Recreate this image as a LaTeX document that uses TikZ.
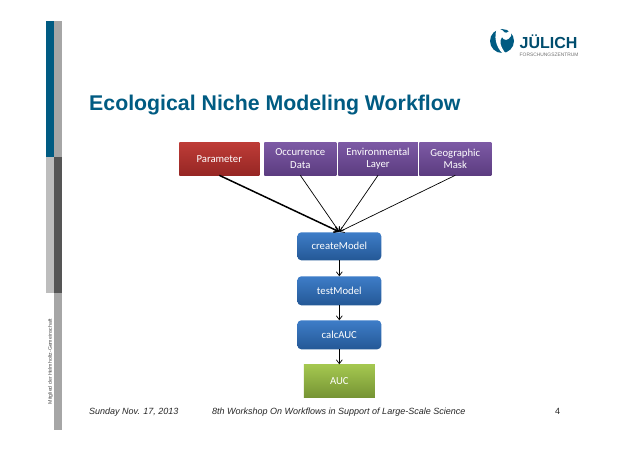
\documentclass[tikz,border=0pt]{standalone}
\usepackage{fontspec}
\setmainfont{Liberation Sans}
\newfontfamily\boxfont{Carlito}
\usetikzlibrary{arrows.meta,calc}
\definecolor{jblue}{HTML}{005B82}
\definecolor{barlight}{HTML}{A6A6A6}
\definecolor{barpale}{HTML}{BDBDBD}
\definecolor{bardark}{HTML}{555555}
\definecolor{redtop}{RGB}{190,60,55}
\definecolor{redbot}{RGB}{150,38,36}
\definecolor{purtop}{RGB}{125,90,165}
\definecolor{purbot}{RGB}{92,60,128}
\definecolor{blutop}{RGB}{62,125,200}
\definecolor{blubot}{RGB}{36,88,150}
\definecolor{gretop}{RGB}{165,200,80}
\definecolor{grebot}{RGB}{118,148,52}
\tikzset{
  x=1pt,y=-1pt,
  boxbase/.style={anchor=north west,inner sep=0pt,outer sep=0pt,text=white,align=center,font=\boxfont\fontsize{10.7}{12.5}\selectfont},
  redbox/.style={boxbase,top color=redtop,bottom color=redbot},
  purplebox/.style={boxbase,top color=purtop,bottom color=purbot},
  bluebox/.style={boxbase,rounded corners=4pt,top color=blutop,bottom color=blubot},
  greenbox/.style={boxbase,top color=gretop,bottom color=grebot},
  flow/.style={-{Straight Barb[length=4pt,width=6pt]},black,line width=0.7pt},
  flowthick/.style={flow,line width=1.5pt},
  footer/.style={anchor=base west,inner sep=0pt,font=\fontsize{9}{10}\selectfont\itshape,text=black!85}
}
\begin{document}
\begin{tikzpicture}
\useasboundingbox (0,0) rectangle (638,452);
\fill[white] (0,0) rectangle (638,452);
% side bars
\fill[jblue] (46,21) rectangle (54,157);
\fill[barlight] (54,21) rectangle (61.5,157);
\fill[barpale] (46,157) rectangle (54,293);
\fill[bardark] (54,157) rectangle (61.5,293);
\fill[barlight] (54,293) rectangle (61.5,430);
\node[rotate=90,inner sep=0pt,font=\fontsize{5.2}{6}\selectfont,text=black!70] (member) at (50.5,361.5) {Mitglied der Helmholtz-Gemeinschaft};
% logo
\fill[jblue] (502,41) circle[radius=12];
\fill[white] (497,28) .. controls (494,36) and (495,46) .. (503,54) -- (506,54) .. controls (500,46) and (499,41) .. (502,37) .. controls (504,41) and (508,41) .. (511,36) -- (511,28) .. controls (508,34) and (505,34) .. (502,30) -- cycle;
\node[anchor=base west,inner sep=0pt,font=\bfseries\fontsize{16}{16}\selectfont,text=jblue!85!black] (logo) at (519.5,48.5) {JÜLICH};
\node[anchor=base west,inner sep=0pt,font=\fontsize{4.9}{5}\selectfont,text=black!55] (logosub) at (519.5,57) {FORSCHUNGSZENTRUM};
% title
\node[anchor=base west,inner sep=0pt,font=\bfseries\fontsize{21.3}{24}\selectfont,text=jblue] (title) at (89,110.5) {Ecological Niche Modeling Workflow};
% boxes
\node[redbox,minimum width=80pt,minimum height=33pt] (param) at (179.3,142.3) {Parameter};
\node[purplebox,minimum width=72pt,minimum height=33pt] (occ) at (264.3,142.3) {Occurrence\\Data};
\node[purplebox,minimum width=79.5pt,minimum height=33pt] (env) at (338.3,142.3) {Environmental\\Layer};
\node[purplebox,minimum width=72pt,minimum height=33pt] (geo) at (419.3,142.3) {Geographic\\Mask};
\node[bluebox,minimum width=84pt,minimum height=28pt] (create) at (297.3,232.3) {createModel};
\node[bluebox,minimum width=84pt,minimum height=29pt] (test) at (297.3,276.3) {testModel};
\node[bluebox,minimum width=84pt,minimum height=29pt] (calc) at (297.3,320.3) {calcAUC};
\node[greenbox,minimum width=71pt,minimum height=33pt] (auc) at (303.8,364.3) {AUC};
% connectors
\coordinate (hub) at ($(create.north)+(0,-0.5)$);
\draw[flowthick] (param.south) -- (hub);
\draw[flow] (occ.south) -- (hub);
\draw[flow] (env.south) -- (hub);
\draw[flow] (geo.south) -- (hub);
\draw[flow] (create) -- (test);
\draw[flow] (test) -- (calc);
\draw[flow] (calc) -- (auc);
% footer
\node[footer] (date) at (89,414.5) {Sunday  Nov. 17, 2013};
\node[footer] (work) at (212,414.5) {8th Workshop On Workflows in Support of Large-Scale Science};
\node[footer,font=\fontsize{9}{10}\selectfont] (page) at (555,414.5) {4};
\end{tikzpicture}
\end{document}
